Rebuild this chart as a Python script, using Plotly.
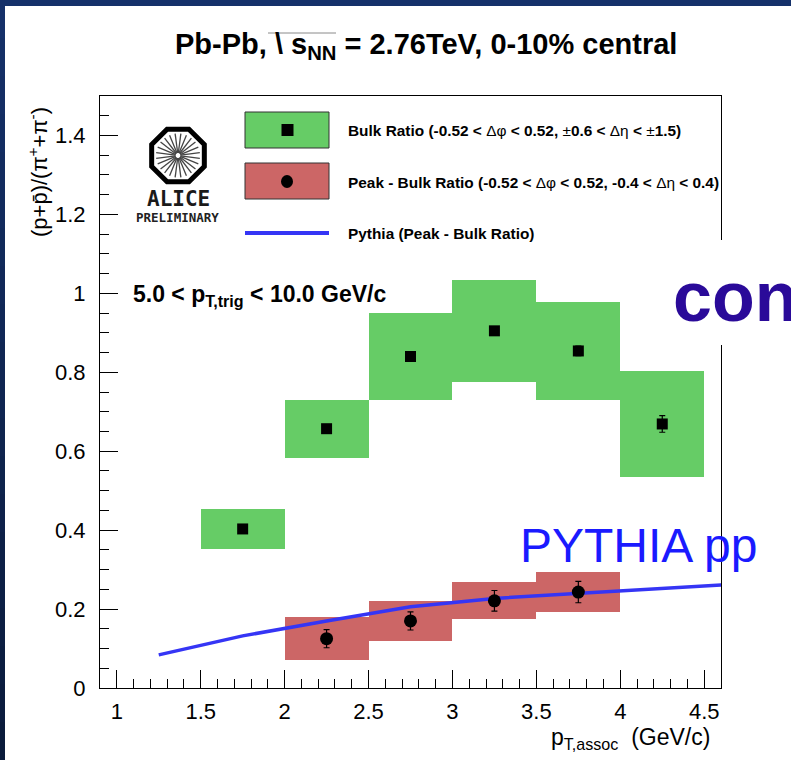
import math
import plotly.graph_objects as go

# ---- data -------------------------------------------------------------
bin_width = 0.5

bulk_pt = [1.75, 2.25, 2.75, 3.25, 3.75, 4.25]
bulk_ratio = [0.403, 0.657, 0.840, 0.905, 0.854, 0.669]
bulk_stat = [0.006, 0.008, 0.009, 0.010, 0.012, 0.021]
bulk_sys = [0.050, 0.074, 0.110, 0.130, 0.124, 0.135]

peak_pt = [2.25, 2.75, 3.25, 3.75]
peak_ratio = [0.125, 0.170, 0.221, 0.243]
peak_stat = [0.023, 0.023, 0.026, 0.027]
peak_sys = [0.054, 0.051, 0.047, 0.050]

pythia_pt = [1.25, 1.75, 2.25, 2.75, 3.25, 3.75, 4.25, 4.75]
pythia_ratio = [0.084, 0.132, 0.170, 0.206, 0.227, 0.240, 0.252, 0.265]

x_ticks = [1, 1.5, 2, 2.5, 3, 3.5, 4, 4.5]
y_ticks = [0, 0.2, 0.4, 0.6, 0.8, 1.0, 1.2, 1.4]

# ---- page geometry (pixels) -------------------------------------------
W, H = 791, 760
L, R, T, B = 100, 721, 96, 688

GREEN = "#66cc66"
RED = "#cc6666"
BLUE = "#3535f5"
FONT = "Liberation Sans, Arial, Helvetica, sans-serif"


def px(x):
    return (x - L) / (R - L)


def py(y):
    return (B - y) / (B - T)


fig = go.Figure()

# systematic boxes
fig.add_trace(go.Bar(
    x=bulk_pt, y=[2 * s for s in bulk_sys],
    base=[v - s for v, s in zip(bulk_ratio, bulk_sys)],
    width=bin_width, marker=dict(color=GREEN, line=dict(width=0)),
    showlegend=False, hoverinfo="skip"))
fig.add_trace(go.Bar(
    x=peak_pt, y=[2 * s for s in peak_sys],
    base=[v - s for v, s in zip(peak_ratio, peak_sys)],
    width=bin_width, marker=dict(color=RED, line=dict(width=0)),
    showlegend=False, hoverinfo="skip"))

# PYTHIA curve
fig.add_trace(go.Scatter(
    x=pythia_pt, y=pythia_ratio, mode="lines",
    line=dict(color=BLUE, width=3.5), showlegend=False, hoverinfo="skip"))

# points with statistical errors
fig.add_trace(go.Scatter(
    x=bulk_pt, y=bulk_ratio, mode="markers",
    marker=dict(symbol="square", size=11, color="black"),
    error_y=dict(type="data", array=bulk_stat, color="black", thickness=1.2, width=3),
    showlegend=False, hoverinfo="skip"))
fig.add_trace(go.Scatter(
    x=peak_pt, y=peak_ratio, mode="markers",
    marker=dict(symbol="circle", size=13, color="black"),
    error_y=dict(type="data", array=peak_stat, color="black", thickness=1.2, width=3),
    showlegend=False, hoverinfo="skip"))

shapes = []
annotations = []

# slide background strips along the top and left edges
shapes.append(dict(type="rect", xref="paper", yref="paper",
                   x0=px(0), x1=px(W), y0=py(0), y1=py(6),
                   fillcolor="#15316a", line=dict(width=0), layer="above"))
n_seg = 20
c_top = (0x15, 0x31, 0x6a)
c_bot = (0x0a, 0x1a, 0x3a)
for i in range(n_seg):
    f = (i + 0.5) / n_seg
    col = "rgb(%d,%d,%d)" % tuple(round(a + (b - a) * f) for a, b in zip(c_top, c_bot))
    y0 = i * H / n_seg
    y1 = (i + 1) * H / n_seg + 1
    shapes.append(dict(type="rect", xref="paper", yref="paper",
                       x0=px(0), x1=px(5), y0=py(y0), y1=py(y1),
                       fillcolor=col, line=dict(width=0), layer="above"))

# ALICE logo: octagon with spokes
cx, cy, rad = 178, 155.5, 28.5
pts = []
for k in range(8):
    a = math.radians(22.5 + 45 * k)
    pts.append((cx + rad * math.cos(a), cy + rad * math.sin(a)))
path = "M " + " L ".join("%.5f,%.5f" % (px(x), py(y)) for x, y in pts) + " Z"
shapes.append(dict(type="path", xref="paper", yref="paper", path=path,
                   line=dict(color="black", width=5), fillcolor="white", layer="above"))
for k in range(24):
    a = math.radians(15 * k + 7.5)
    shapes.append(dict(type="line", xref="paper", yref="paper",
                       x0=px(cx + 2.5 * math.cos(a)), y0=py(cy + 2.5 * math.sin(a)),
                       x1=px(cx + 22 * math.cos(a)), y1=py(cy + 22 * math.sin(a)),
                       line=dict(color="#444444", width=1.3), layer="above"))
annotations.append(dict(x=px(178), y=py(199), xref="paper", yref="paper",
                        text="<b>ALICE</b>", showarrow=False, xanchor="center",
                        yanchor="middle",
                        font=dict(family="DejaVu Sans Mono", size=21, color="#1a1a1a")))
annotations.append(dict(x=px(177), y=py(218), xref="paper", yref="paper",
                        text="<b>PRELIMINARY</b>", showarrow=False, xanchor="center",
                        yanchor="middle",
                        font=dict(family="DejaVu Sans Mono", size=12.5, color="#222222")))

# legend
shapes.append(dict(type="rect", xref="paper", yref="paper",
                   x0=px(245), x1=px(329), y0=py(112), y1=py(148),
                   fillcolor=GREEN, line=dict(color="#333333", width=1), layer="above"))
shapes.append(dict(type="rect", xref="paper", yref="paper",
                   x0=px(281.5), x1=px(293.5), y0=py(124), y1=py(136),
                   fillcolor="black", line=dict(width=0), layer="above"))
shapes.append(dict(type="rect", xref="paper", yref="paper",
                   x0=px(245), x1=px(329), y0=py(163), y1=py(199),
                   fillcolor=RED, line=dict(color="#333333", width=1), layer="above"))
shapes.append(dict(type="circle", xref="paper", yref="paper",
                   x0=px(281), x1=px(293), y0=py(175), y1=py(188),
                   fillcolor="black", line=dict(width=0), layer="above"))
shapes.append(dict(type="line", xref="paper", yref="paper",
                   x0=px(245), x1=px(329), y0=py(233), y1=py(233),
                   line=dict(color=BLUE, width=4), layer="above"))

legend_rows = [
    (130, "<b>Bulk Ratio (-0.52 &lt; </b>\u0394\u03c6<b> &lt; 0.52, </b>\u00b1<b>0.6 &lt; </b>"
          "\u0394\u03b7<b> &lt; </b>\u00b1<b>1.5)</b>"),
    (182, "<b>Peak - Bulk Ratio (-0.52 &lt; </b>\u0394\u03c6<b> &lt; 0.52, -0.4 &lt; </b>"
          "\u0394\u03b7<b> &lt; 0.4)</b>"),
    (233, "<b>Pythia (Peak - Bulk Ratio)</b>"),
]
for yy, txt in legend_rows:
    annotations.append(dict(x=px(346), y=py(yy), xref="paper", yref="paper",
                            text=txt, showarrow=False, xanchor="left", yanchor="middle",
                            font=dict(family=FONT, size=15.4, color="black")))

# trigger selection label
annotations.append(dict(x=px(131), y=py(295), xref="paper", yref="paper",
                        text="<b>5.0 &lt; p<sub>T,trig</sub> &lt; 10.0 GeV/c</b>",
                        showarrow=False, xanchor="left", yanchor="middle",
                        font=dict(family=FONT, size=23, color="black")))

# title, with the bar of the square-root sign over s_NN
annotations.append(dict(x=px(426), y=py(46), xref="paper", yref="paper",
                        text="<b>Pb-Pb, \\ s<sub>NN</sub> = 2.76TeV, 0-10% central</b>",
                        showarrow=False, xanchor="center", yanchor="middle",
                        font=dict(family=FONT, size=29, color="black")))
shapes.append(dict(type="line", xref="paper", yref="paper",
                   x0=px(268), x1=px(336), y0=py(33), y1=py(33),
                   line=dict(color="#8a8a8a", width=1), layer="above"))

# axis titles
annotations.append(dict(x=px(38), y=py(172), xref="paper", yref="paper",
                        text="(p+p\u0304)/(\u03c0<sup>+</sup>+\u03c0<sup>-</sup>)",
                        textangle=-90, showarrow=False, xanchor="center", yanchor="middle",
                        font=dict(family=FONT, size=22, color="black")))
annotations.append(dict(x=px(712), y=py(738), xref="paper", yref="paper",
                        text="p<sub>T,assoc</sub>  (GeV/c)",
                        showarrow=False, xanchor="right", yanchor="middle",
                        font=dict(family=FONT, size=23, color="black")))

# overlaid slide text
shapes.append(dict(type="rect", xref="paper", yref="paper",
                   x0=px(664), x1=px(W + 2), y0=py(240), y1=py(345),
                   fillcolor="white", line=dict(width=0), layer="above"))
annotations.append(dict(x=px(671), y=py(297), xref="paper", yref="paper",
                        text="<b>con</b>", showarrow=False, xanchor="left", yanchor="middle",
                        font=dict(family=FONT, size=70, color="#2a0a99")))
annotations.append(dict(x=px(518), y=py(545), xref="paper", yref="paper",
                        text="PYTHIA pp", showarrow=False, xanchor="left", yanchor="middle",
                        font=dict(family=FONT, size=48, color="#1a1aff")))

axis_common = dict(
    showgrid=False, zeroline=False, showline=True, mirror=True,
    linecolor="black", linewidth=1, ticks="inside", ticklen=18, tickwidth=1,
    tickcolor="black", tickfont=dict(family=FONT, size=22, color="black"),
)

fig.update_layout(
    width=W, height=H, autosize=False,
    margin=dict(l=L, r=W - R, t=T, b=H - B, pad=0),
    paper_bgcolor="white", plot_bgcolor="white",
    barmode="overlay", bargap=0,
    shapes=shapes, annotations=annotations,
    xaxis=dict(range=[0.9, 4.6], tickmode="array", tickvals=x_ticks,
               ticktext=["%g" % v for v in x_ticks], ticklabelstandoff=4,
               minor=dict(dtick=0.1, tick0=0.9, ticks="inside", ticklen=9,
                          tickcolor="black", tickwidth=1),
               **axis_common),
    yaxis=dict(range=[0, 1.5], tickmode="array", tickvals=y_ticks,
               ticktext=["%g" % v for v in y_ticks], ticklabelstandoff=9,
               minor=dict(dtick=0.05, tick0=0, ticks="inside", ticklen=9,
                          tickcolor="black", tickwidth=1),
               **axis_common),
)

fig.write_html("out.html")
